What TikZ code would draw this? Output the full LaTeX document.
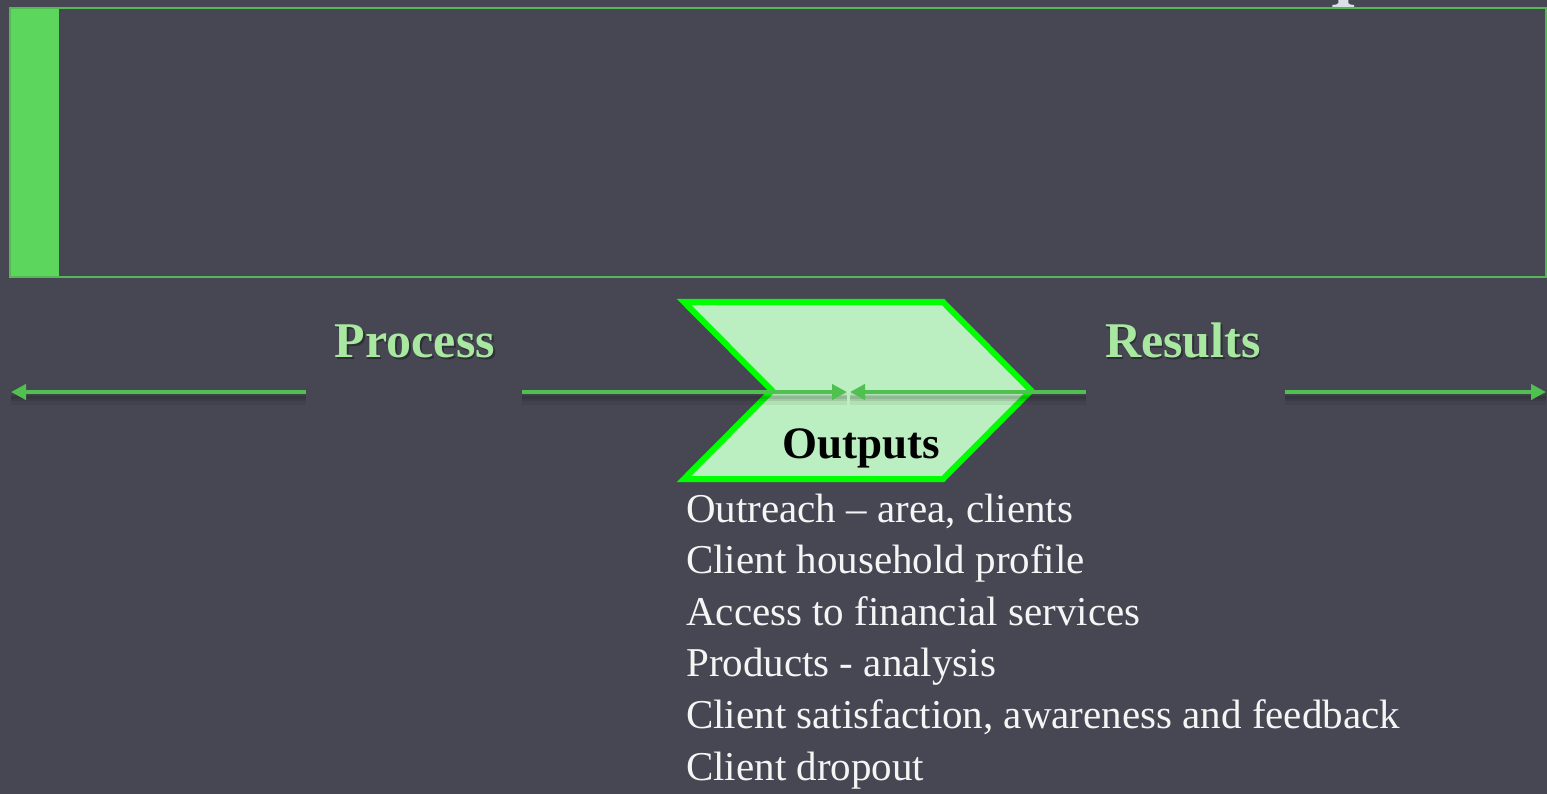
\documentclass[tikz,border=0pt]{standalone}
\usepackage{fontspec}
\setmainfont{Liberation Serif}
\usetikzlibrary{arrows.meta}

\definecolor{bg}{RGB}{71,71,83}
\definecolor{framegreen}{RGB}{84,184,84}
\definecolor{bargreen}{RGB}{92,214,92}
\definecolor{linegreen}{RGB}{80,192,80}
\definecolor{chevfill}{RGB}{187,238,192}
\definecolor{chevedge}{RGB}{0,255,0}
\definecolor{labelgreen}{RGB}{168,232,160}
\definecolor{titlegrey}{RGB}{218,224,230}
\definecolor{listtext}{RGB}{245,245,245}

\begin{document}
\begin{tikzpicture}[x=1pt,y=-1pt,
  flowline/.style={draw=linegreen,line width=4.5pt,-{Triangle[length=15pt,width=15pt]}},
  flowshadowwide/.style={draw=black,opacity=.06,line width=12pt},
  flowshadow/.style={draw=black,opacity=.09,line width=6pt},
  stagelabel/.style={font=\fontsize{50}{50}\selectfont\bfseries,text=labelgreen,inner sep=0pt,anchor=base},
  stageshadow/.style={font=\fontsize{50}{50}\selectfont\bfseries,text=black,opacity=.35,inner sep=0pt,anchor=base},
  listitem/.style={font=\fontsize{41}{52}\selectfont,text=listtext,inner sep=0pt,anchor=base west}
]
% page
\fill[bg] (0,0) rectangle (1547,794);
\useasboundingbox (0,0) rectangle (1547,794);

% foot of a heading letter, cut by the top edge
\fill[titlegrey] (1338.3,0) -- (1348.3,0) -- (1348.3,3.2)
  .. controls (1349,4.5) and (1351,4.8) .. (1354,5) -- (1354,7.3) -- (1332.3,7.3) -- (1332.3,5)
  .. controls (1335.5,4.8) and (1337.6,4.5) .. (1338.3,3.2) -- cycle;

% header panel with its side bar
\fill[bargreen] (10,8) rectangle (59,277);
\draw[framegreen,line width=2pt] (10,8) rectangle (1546,277);

% outputs chevron
\filldraw[fill=chevfill,draw=chevedge,line width=6pt,line join=miter]
  (684,302) -- (943,302) -- (1031,390.5) -- (943,479) -- (684,479) -- (772,390.5) -- cycle;
\node[font=\fontsize{45}{45}\selectfont\bfseries,text=black,inner sep=0pt,anchor=base] (outputs) at (861.5,458) {Outputs};

% arrow end points
\coordinate (procstart) at (306,392);
\coordinate (procend)   at (11,392);
\coordinate (instart)   at (522,392);
\coordinate (inend)     at (847,392);
\coordinate (backstart) at (1086,392);
\coordinate (backend)   at (850,392);
\coordinate (resstart)  at (1285,392);
\coordinate (resend)    at (1546,392);

% soft shadows under the arrows
\foreach \a/\b in {procstart/procend,instart/inend,backstart/backend,resstart/resend}{
  \draw[flowshadowwide] ([yshift=-7pt]\a) -- ([yshift=-7pt]\b);
  \draw[flowshadow] ([yshift=-6pt]\a) -- ([yshift=-6pt]\b);
  \draw[flowshadow,line width=3pt] ([yshift=-5pt]\a) -- ([yshift=-5pt]\b);
}

% arrows
\draw[flowline] (procstart) -- (procend);
\draw[flowline] (instart) -- (inend);
\draw[flowline] (backstart) -- (backend);
\draw[flowline] (resstart) -- (resend);

% stage labels
\node[stageshadow] (processshadow) at (416.5,359.5) {Process};
\node[stagelabel] (process) at (415,357) {Process};
\node[stageshadow] (resultsshadow) at (1184.5,359.5) {Results};
\node[stagelabel] (results) at (1183,357) {Results};

% list of outputs
\node[listitem] (item1) at (686,522) {Outreach – area, clients};
\node[listitem] (item2) at (686,573.6) {Client household profile};
\node[listitem] (item3) at (686,625.2) {Access to financial services};
\node[listitem] (item4) at (686,676.8) {Products - analysis};
\node[listitem] (item5) at (686,728.4) {Client satisfaction, awareness and feedback};
\node[listitem] (item6) at (686,780) {Client dropout};
\end{tikzpicture}
\end{document}
